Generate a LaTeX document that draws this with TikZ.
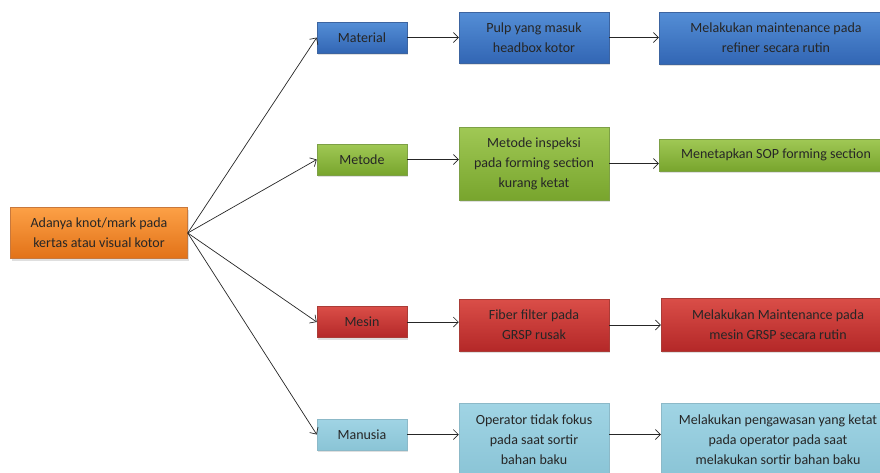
\documentclass[tikz,border=0pt]{standalone}
\usepackage{fontspec}
\setmainfont{Carlito}
\usetikzlibrary{positioning,shadows,arrows.meta}

\definecolor{blueT}{RGB}{84,142,214}
\definecolor{blueB}{RGB}{50,102,180}
\definecolor{blueD}{RGB}{60,100,160}
\definecolor{greenT}{RGB}{160,200,85}
\definecolor{greenB}{RGB}{120,165,45}
\definecolor{greenD}{RGB}{125,160,70}
\definecolor{redT}{RGB}{218,78,72}
\definecolor{redB}{RGB}{180,40,40}
\definecolor{redD}{RGB}{170,60,55}
\definecolor{lblueT}{RGB}{160,212,228}
\definecolor{lblueB}{RGB}{138,196,214}
\definecolor{lblueD}{RGB}{140,185,200}
\definecolor{orangeT}{RGB}{252,160,70}
\definecolor{orangeB}{RGB}{226,114,24}
\definecolor{orangeD}{RGB}{200,120,60}

\begin{document}
\begin{tikzpicture}[x=1pt,y=-1pt,
                    box/.style={rectangle,draw,line width=0.5pt,inner sep=2pt,align=center,
                                font=\fontsize{14}{20}\selectfont,text=black!85,
                                drop shadow={shadow xshift=1pt,shadow yshift=-2pt,opacity=0.25}},
                    blue box/.style={box,draw=blueD,top color=blueT,bottom color=blueB},
                    green box/.style={box,draw=greenD,top color=greenT,bottom color=greenB},
                    red box/.style={box,draw=redD,top color=redT,bottom color=redB},
                    lblue box/.style={box,draw=lblueD,top color=lblueT,bottom color=lblueB},
                    orange box/.style={box,draw=orangeD,top color=orangeT,bottom color=orangeB},
                    cat/.style={minimum width=90pt,minimum height=31pt},
                    cause/.style={minimum width=150pt},
                    fix/.style={minimum width=234pt},
                    link/.style={-{Straight Barb[length=5pt,width=10pt]},line width=0.7pt,black!85}
                   ]
   \useasboundingbox (0,0) rectangle (880,472);
   % problem
   \node[orange box,minimum width=177pt,minimum height=51pt] (root) at (99,233) {Adanya knot/mark pada\\kertas atau visual kotor};
   % categories
   \node[blue box,cat] (material) at (362,37.5) {Material};
   \node[green box,cat] (metode) at (362,159.5) {Metode};
   \node[red box,cat] (mesin) at (362,322) {Mesin};
   \node[lblue box,cat] (manusia) at (362,434.5) {Manusia};
   % causes
   \node[blue box,cause,minimum height=51pt] (pulp) at (534,37.5) {Pulp yang masuk\\headbox kotor};
   \node[green box,cause,minimum height=73pt] (inspeksi) at (534,163.5) {Metode inspeksi\\pada forming section\\kurang ketat};
   \node[red box,cause,minimum height=52pt] (fiber) at (534,325) {Fiber filter pada\\GRSP rusak};
   \node[lblue box,cause,minimum height=73pt] (operator) at (534,440) {Operator tidak fokus\\pada saat sortir\\bahan baku};
   % actions
   \node[blue box,fix,minimum height=52pt] (refiner) at (776,38) {Melakukan maintenance pada\\refiner secara rutin};
   \node[green box,fix,minimum height=32pt] (sop) at (776,155) {Menetapkan SOP forming section};
   \node[red box,fix,minimum height=53pt] (grsp) at (778,324.5) {Melakukan Maintenance pada\\mesin GRSP secara rutin};
   \node[lblue box,fix,minimum height=73pt] (awas) at (778,440) {Melakukan pengawasan yang ketat\\pada operator pada saat\\melakukan sortir bahan baku};
   % fan
   \foreach \c in {material,metode,mesin,manusia}
     \draw[link] (root.east) -- (\c.west);
   % rows
   \draw[link] (material.east) -- (material.east -| pulp.west);
   \draw[link] (pulp.east) -- (pulp.east -| refiner.west);
   \draw[link] (metode.east) -- (metode.east -| inspeksi.west);
   \draw[link] (inspeksi.east) -- (inspeksi.east -| sop.west);
   \draw[link] (mesin.east) -- (mesin.east -| fiber.west);
   \draw[link] (fiber.east) -- (fiber.east -| grsp.west);
   \draw[link] (manusia.east) -- (manusia.east -| operator.west);
   \draw[link] (operator.east |- manusia.east) -- (manusia.east -| awas.west);
\end{tikzpicture}
\end{document}
